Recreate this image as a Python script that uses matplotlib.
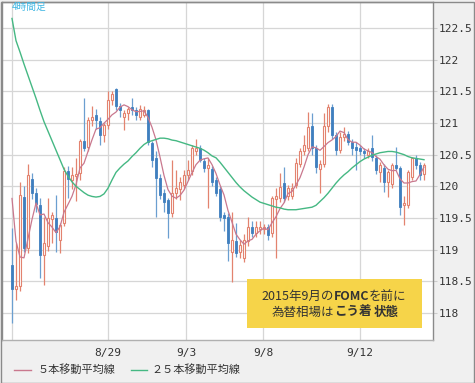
import matplotlib
matplotlib.use('Agg')
import matplotlib.pyplot as plt
import numpy as np
import pandas as pd
from matplotlib.patches import Rectangle
from matplotlib.lines import Line2D

# 4h candles, USD/JPY
opens = [118.76, 118.38, 118.42, 119.83, 119.03, 120.12, 119.89, 119.70, 118.92, 119.05,
         119.48, 119.50, 119.15, 119.42, 120.24, 120.10, 120.16, 120.21, 120.71, 120.62,
         121.05, 121.12, 121.03, 120.81, 120.97, 121.36, 121.53, 121.27, 121.10, 121.15,
         121.25, 121.20, 121.10, 121.12, 121.20, 120.68, 120.45, 120.13, 119.90, 119.78,
         119.58, 119.90, 119.95, 120.02, 120.18, 120.24, 120.55, 120.60, 120.40, 120.29,
         120.28, 120.10, 119.95, 119.55, 119.52, 118.96, 119.14, 118.96, 118.87, 119.13,
         119.36, 119.27, 119.33, 119.33, 119.35, 119.26, 119.80, 119.82, 120.05, 119.84,
         119.85, 120.02, 120.35, 120.55, 120.60, 120.95, 120.60, 120.28, 120.35, 120.95,
         121.25, 120.81, 120.57, 120.78, 120.83, 120.70, 120.62, 120.60, 120.56, 120.50,
         120.60, 120.45, 120.23, 120.29, 120.06, 120.04, 120.34, 120.29, 119.70, 119.70,
         120.15, 120.45, 120.34, 120.20]
highs = [119.34, 119.10, 120.07, 120.00, 120.35, 120.21, 119.98, 119.82, 119.52, 119.82,
         119.60, 119.86, 119.42, 120.30, 120.32, 120.30, 120.45, 120.75, 121.39, 121.10,
         121.27, 121.22, 121.10, 121.00, 121.50, 121.50, 121.55, 121.32, 121.20, 121.25,
         121.39, 121.25, 121.28, 121.27, 121.22, 120.72, 120.55, 120.20, 119.95, 119.82,
         120.42, 120.25, 120.15, 120.25, 120.42, 120.65, 120.74, 120.65, 120.45, 120.45,
         120.32, 120.15, 120.00, 119.60, 119.58, 119.60, 119.42, 119.15, 119.25, 119.52,
         119.45, 119.45, 119.45, 119.40, 119.40, 119.85, 119.98, 120.21, 120.30, 120.02,
         120.05, 120.45, 120.60, 120.81, 121.17, 121.16, 120.65, 120.42, 121.15, 121.30,
         121.30, 120.85, 120.85, 120.94, 120.88, 120.75, 120.70, 120.65, 120.60, 120.60,
         120.81, 120.50, 120.38, 120.35, 120.25, 120.36, 120.62, 120.32, 119.85, 120.25,
         120.47, 120.50, 120.38, 120.36]
lows = [117.84, 118.20, 118.35, 118.96, 118.95, 119.80, 119.60, 118.55, 118.44, 118.98,
        119.10, 118.96, 118.95, 119.38, 119.82, 119.95, 119.77, 120.10, 120.55, 120.55,
        120.95, 120.90, 120.65, 120.70, 120.90, 121.28, 121.20, 121.10, 120.89, 121.05,
        121.12, 121.05, 121.05, 121.10, 120.65, 120.30, 119.52, 119.80, 119.60, 119.18,
        119.52, 119.80, 119.78, 119.95, 120.10, 120.18, 120.50, 120.38, 120.22, 119.66,
        120.00, 119.85, 119.45, 119.30, 118.82, 118.49, 118.88, 118.87, 118.80, 119.05,
        119.20, 119.20, 119.25, 119.25, 119.15, 119.20, 118.87, 119.75, 119.75, 119.78,
        119.80, 119.98, 120.30, 120.50, 120.55, 120.50, 120.21, 119.89, 120.30, 120.85,
        120.75, 120.50, 120.52, 120.72, 120.65, 120.50, 120.26, 120.50, 120.45, 120.45,
        120.40, 120.20, 120.07, 119.91, 119.83, 119.98, 120.25, 119.55, 119.39, 119.65,
        120.10, 120.28, 120.10, 120.10]
closes = [118.38, 118.42, 119.86, 119.03, 120.18, 119.89, 119.72, 118.92, 119.10, 119.50,
          119.54, 119.28, 119.39, 120.24, 120.12, 120.18, 120.20, 120.71, 120.61, 121.05,
          121.10, 121.05, 120.81, 120.97, 121.36, 121.45, 121.27, 121.20, 121.15, 121.22,
          121.20, 121.12, 121.22, 121.20, 120.70, 120.42, 120.13, 119.86, 119.75, 119.58,
          119.90, 119.97, 120.07, 120.18, 120.26, 120.60, 120.60, 120.42, 120.29, 120.33,
          120.07, 119.90, 119.52, 119.50, 119.10, 119.15, 118.95, 119.08, 119.15, 119.36,
          119.27, 119.36, 119.35, 119.36, 119.23, 119.82, 119.84, 119.99, 119.81, 119.97,
          119.98, 120.37, 120.55, 120.65, 120.94, 120.60, 120.30, 120.35, 120.95, 121.25,
          120.81, 120.57, 120.78, 120.83, 120.70, 120.60, 120.57, 120.55, 120.52, 120.56,
          120.46, 120.26, 120.34, 120.07, 120.22, 120.34, 120.29, 119.67, 119.74, 120.22,
          120.45, 120.34, 120.18, 120.33]
# closes before the first visible bar (for the 5-bar average)
lead_closes = [121.80, 121.10, 119.10, 118.66]

# 25-bar average
ma25 = [122.65, 122.30, 122.12, 121.93, 121.75, 121.57, 121.39, 121.20, 121.02, 120.87,
        120.72, 120.57, 120.42, 120.27, 120.16, 120.07, 120.00, 119.95, 119.90, 119.86,
        119.84, 119.83, 119.84, 119.88, 119.97, 120.10, 120.22, 120.29, 120.35, 120.40,
        120.47, 120.53, 120.60, 120.66, 120.70, 120.72, 120.74, 120.76, 120.76, 120.75,
        120.73, 120.72, 120.70, 120.68, 120.66, 120.64, 120.62, 120.60, 120.57, 120.53,
        120.48, 120.45, 120.38, 120.30, 120.22, 120.14, 120.06, 119.99, 119.93, 119.88,
        119.83, 119.79, 119.75, 119.73, 119.71, 119.69, 119.67, 119.66, 119.64, 119.63,
        119.63, 119.63, 119.64, 119.65, 119.66, 119.67, 119.70, 119.76, 119.82, 119.89,
        119.97, 120.05, 120.12, 120.18, 120.23, 120.29, 120.34, 120.39, 120.43, 120.46,
        120.49, 120.51, 120.53, 120.54, 120.55, 120.55, 120.54, 120.52, 120.50, 120.47,
        120.45, 120.44, 120.43, 120.42]

date_pos = [0, 24, 43.5, 62.75, 87]
date_labels = ['', '8/29', '9/3', '9/8', '9/12']
yticks = [118, 118.5, 119, 119.5, 120, 120.5, 121, 121.5, 122, 122.5]
ytick_labels = ['118', '118.5', '119', '119.5', '120', '120.5', '121', '121.5', '122', '122.5']

UP = '#e3836f'
DOWN = '#3f7fbf'
DOWN_WICK = '#6b9fd0'
MA5_C = '#c9788e'
MA25_C = '#45b883'
JP = ['Noto Sans CJK JP', 'DejaVu Sans']

W, H = 475, 383
fig = plt.figure(figsize=(W / 100, H / 100), dpi=100)
fig.patch.set_facecolor('#f0f0f0')
ax = fig.add_axes([2 / W, 1 - 340 / H, 431 / W, 338.5 / H])
ax.set_facecolor('white')

o = np.array(opens)
h = np.array(highs)
l = np.array(lows)
c = np.array(closes)
idx = np.arange(len(c))
up = c >= o

# wicks
ax.vlines(idx[up], l[up], h[up], color=UP, linewidth=0.9, zorder=2)
ax.vlines(idx[~up], l[~up], h[~up], color=DOWN_WICK, linewidth=0.9, zorder=2)

# bodies
body_bot = np.minimum(o, c)
body_h = np.maximum(np.abs(c - o), 0.015)
ax.bar(idx[up], body_h[up], bottom=body_bot[up], width=0.7,
       facecolor='white', edgecolor=UP, linewidth=0.8, zorder=3)
ax.bar(idx[~up], body_h[~up], bottom=body_bot[~up], width=0.7,
       facecolor=DOWN, edgecolor=DOWN, linewidth=0.6, zorder=3)

# moving averages
ma5 = pd.Series(lead_closes + closes).rolling(5).mean().to_numpy()[len(lead_closes):]
ax.plot(idx, ma5, color=MA5_C, linewidth=0.9, zorder=4)
ax.plot(idx, ma25, color=MA25_C, linewidth=1.0, zorder=4)

ax.set_xlim(-2.5, 105.25)
ax.set_ylim(117.573, 122.918)

ax.set_xticks(date_pos)
ax.set_xticklabels(date_labels, family='DejaVu Sans Mono', fontsize=8, color='#333333')
ax.set_yticks(yticks)
ax.set_yticklabels(ytick_labels, family='DejaVu Sans Mono', fontsize=8, color='#333333')
ax.yaxis.tick_right()
ax.tick_params(axis='y', length=3, width=0.8, color='#cccccc', pad=1)
ax.tick_params(axis='x', length=0, pad=6)
ax.grid(True, color='#d6d6d6', linewidth=0.9, zorder=0)
ax.set_axisbelow(True)
for side in ['left', 'top', 'right']:
    ax.spines[side].set_color('#8a8a8a')
    ax.spines[side].set_linewidth(1.0)
ax.spines['bottom'].set_color('#b0b0b0')
ax.spines['bottom'].set_linewidth(1.0)

# corner label
fig.text(12 / W, 1 - 7 / H, '4時間足', family=JP, fontsize=7, color='#3fb6e3',
         va='center', ha='left')

# legend at the bottom
ly = 1 - 370 / H
fig.add_artist(Line2D([14 / W, 31 / W], [ly, ly], color=MA5_C, linewidth=1.0))
fig.text(38 / W, ly, '５本移動平均線', family=JP, fontsize=8, color='#333333', va='center')
fig.add_artist(Line2D([131 / W, 147 / W], [ly, ly], color=MA25_C, linewidth=1.0))
fig.text(151 / W, ly, '２５本移動平均線', family=JP, fontsize=8, color='#333333', va='center')

# yellow note box
fig.add_artist(Rectangle((247 / W, 1 - 328 / H), 175 / W, 49 / H,
                         transform=fig.transFigure, facecolor='#f6d449',
                         edgecolor='none', zorder=5))


def put_line(segs, xc, yc, size):
    renderer = fig.canvas.get_renderer()
    texts, widths = [], []
    for s, wgt in segs:
        t = fig.text(0, yc, s, family=JP, fontsize=size, fontweight=wgt,
                     color='#333333', va='center', ha='left', zorder=6)
        widths.append(t.get_window_extent(renderer).width)
        texts.append(t)
    x = xc - sum(widths) / 2
    for t, wd in zip(texts, widths):
        t.set_x(x / W)
        x += wd


put_line([('2015年9月の', 'normal'), ('FOMC', 'bold'), ('を前に', 'normal')],
         334, 1 - 296 / H, 9)
put_line([('為替相場は', 'normal'), ('こう着', 'bold'), (' ', 'normal'), ('状態', 'bold')],
         335, 1 - 312 / H, 9)

# outer frame
fig.add_artist(Rectangle((0.5 / W, 0.5 / H), (W - 2) / W, (H - 2) / H,
                         transform=fig.transFigure, facecolor='none',
                         edgecolor='#8a8a8a', linewidth=1.0))

fig.savefig('out.png', dpi=100, facecolor=fig.get_facecolor())
